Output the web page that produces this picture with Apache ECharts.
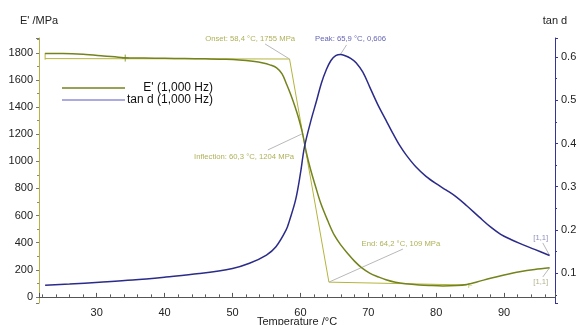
<!DOCTYPE html>
<html>
<head>
<meta charset="utf-8">
<title>DMA</title>
<script src="https://cdn.jsdelivr.net/npm/echarts@6/dist/echarts.min.js"></script>
<style>
  html, body { margin: 0; padding: 0; background: #fff; }
  #dma { width: 577px; height: 325px; }
</style>
</head>
<body>
<div id="dma"></div>
<script>
// E' curve (temperature / MPa)
const eTemp = [22.4, 25, 28, 31, 34, 37, 40, 43, 46, 49, 51, 53, 54.5, 55.5, 56.5, 57.3, 58, 58.6, 59.2, 59.7, 60.3, 60.9, 61.5, 62.2, 63, 64, 65, 66, 67, 68, 69, 70.2, 71.5, 72.6, 74, 75.5, 77.5, 79, 81, 83, 84.5, 86, 88, 90, 92.3, 94.5, 96.7]
const eMod = [1795, 1795, 1790, 1778, 1765, 1762, 1760, 1758, 1756, 1753, 1748, 1738, 1726, 1712, 1690, 1645, 1565, 1490, 1405, 1325, 1210, 1060, 940, 820, 690, 565, 455, 380, 318, 262, 216, 176, 147, 126, 108, 97, 88, 84, 81, 84, 92, 110, 138, 162, 186, 203, 215]

// tan d curve
const tTemp = [22.4, 26, 30.4, 35.3, 40.2, 45.1, 50, 52.5, 55, 56.4, 57.9, 58.4, 59.3, 60, 60.6, 61.5, 62.4, 63.1, 63.8, 64.5, 65.2, 65.9, 66.6, 67.4, 68.2, 69.2, 70.2, 71.4, 72.6, 73.6, 74.6, 75.6, 77, 78.5, 80, 81.5, 83, 84.5, 86.4, 88, 89.5, 91, 92.3, 94.5, 96.7]
const tanD = [0.072, 0.075, 0.079, 0.084, 0.091, 0.099, 0.111, 0.123, 0.142, 0.161, 0.2, 0.222, 0.27, 0.33, 0.392, 0.45, 0.5, 0.54, 0.57, 0.592, 0.603, 0.606, 0.603, 0.597, 0.587, 0.565, 0.531, 0.49, 0.454, 0.424, 0.396, 0.373, 0.346, 0.324, 0.307, 0.292, 0.276, 0.256, 0.229, 0.207, 0.19, 0.178, 0.169, 0.155, 0.141]

// evaluation lines (onset / tangent / end)
const startTick = [[22.4, 1800], [22.4, 1750]]
const onsetBase = [[22.4, 1758], [58.4, 1755]]
const tangent = [[58.4, 1755], [64.2, 109]]
const endBase = [[64.2, 109], [84.5, 88]]
const plusMark = [[34.2, 1762]]
const fMark = [[85, 84]]

// annotation texts: [x, y] of the text, leader from point to anchor
const onsetText = { pos: [52.6, 1905], from: [58.4, 1755], to: [54.8, 1866], text: 'Onset: 58,4 °C, 1755 MPa' }
const inflText = { pos: [51.7, 1032], from: [60.3, 1204], to: [55.2, 1084], text: 'Inflection: 60,3 °C, 1204 MPa' }
const endText = { pos: [74.8, 390], from: [64.2, 109], to: [75.1, 353], text: 'End: 64,2 °C, 109 MPa' }
const eEndText = { pos: [95.4, 110], from: [96.7, 215], to: [95.7, 147], text: '[1,1]' }
const peakText = { pos: [67.4, 0.642], from: [65.9, 0.606], to: [66.8, 0.628], text: 'Peak: 65,9 °C, 0,606' }
const tEndText = { pos: [95.4, 0.181], from: [96.7, 0.141], to: [95.7, 0.17], text: '[1,1]' }

const olive = '#74831c'
const oliveLight = '#b4b43e'
const oliveText = '#9a9c2c'
const navy = '#2b2b8a'
const leader = '#b8b8b8'

const zip = (xs, ys) => xs.map((x, i) => [x, ys[i]])

function helperLine(data, color, yAxisIndex) {
  return {
    type: 'line',
    data: data,
    yAxisIndex: yAxisIndex,
    symbol: 'none',
    silent: true,
    lineStyle: { color: color, width: 1 },
    z: 1
  }
}

function note(a, color, yAxisIndex) {
  return [
    helperLine([a.from, a.to], leader, yAxisIndex),
    {
      type: 'scatter',
      data: [a.pos],
      yAxisIndex: yAxisIndex,
      symbolSize: 0,
      silent: true,
      clip: false,
      label: {
        show: true,
        position: 'inside',
        formatter: a.text,
        color: color,
        fontSize: 7.7,
        fontFamily: 'Liberation Sans'
      }
    }
  ]
}

const chart = echarts.init(document.getElementById('dma'))
const option = {
  animation: false,
  textStyle: { fontFamily: 'Liberation Sans' },
  grid: { left: 39, right: 22, top: 38, bottom: 22, containLabel: false, outerBoundsMode: 'none' },
  legend: {
    orient: 'vertical',
    left: 57,
    top: 77,
    itemWidth: 63,
    itemHeight: 1.5,
    itemGap: 0,
    data: [
      { name: "E' (1,000 Hz)", icon: 'rect', itemStyle: { color: olive } },
      { name: 'tan d (1,000 Hz)', icon: 'rect', itemStyle: { color: '#8f8fd6' } }
    ],
    formatter: name => '{t|' + name + '}',
    textStyle: {
      color: '#111',
      fontSize: 12,
      rich: { t: { width: 83, align: 'right', fontSize: 12, lineHeight: 13, color: '#111' } }
    }
  },
  xAxis: {
    type: 'value',
    min: 21.5,
    max: 97.5,
    splitNumber: 8,
    name: 'Temperature /°C',
    nameLocation: 'middle',
    nameGap: 13,
    nameMoveOverlap: false,
    nameTextStyle: { color: '#222', fontSize: 11 },
    axisLine: { lineStyle: { color: '#555' } },
    axisTick: { inside: true, length: 4, lineStyle: { color: '#555' } },
    minorTick: { show: true, splitNumber: 5, length: 2.5, lineStyle: { color: '#555' } },
    axisLabel: { showMinLabel: false, showMaxLabel: false, color: '#222', fontSize: 11, margin: 4 },
    splitLine: { show: false }
  },
  yAxis: [
    {
      type: 'value',
      min: -45,
      max: 1910,
      splitNumber: 10,
      position: 'left',
      name: "E' /MPa",
      nameGap: 12,
      nameTextStyle: { color: '#222', fontSize: 11 },
      axisLine: { show: true, lineStyle: { color: '#b4b43e' } },
      axisTick: { show: true, length: 3, lineStyle: { color: '#777' } },
      minorTick: { show: true, splitNumber: 2, length: 2, lineStyle: { color: '#888' } },
      axisLabel: {
        showMinLabel: false,
        showMaxLabel: false,
        color: '#222',
        fontSize: 11,
        margin: 6,
        formatter: v => String(v)
      },
      splitLine: { show: false }
    },
    {
      type: 'value',
      min: 0.031,
      max: 0.644,
      splitNumber: 6,
      position: 'right',
      name: 'tan d',
      nameGap: 12,
      nameTextStyle: { color: '#222', fontSize: 11 },
      axisLine: { show: true, lineStyle: { color: '#34349a' } },
      axisTick: { show: true, length: 3, lineStyle: { color: '#34349a' } },
      minorTick: { show: true, splitNumber: 2, length: 2, lineStyle: { color: '#34349a' } },
      axisLabel: {
        showMinLabel: false,
        showMaxLabel: false,
        color: '#222',
        fontSize: 11,
        margin: 6,
        formatter: v => v.toFixed(1)
      },
      splitLine: { show: false }
    }
  ],
  series: [
    helperLine(startTick, oliveLight, 0),
    helperLine(onsetBase, oliveLight, 0),
    helperLine(tangent, oliveLight, 0),
    helperLine(endBase, oliveLight, 0),
    {
      name: "E' (1,000 Hz)",
      type: 'line',
      data: zip(eTemp, eMod),
      yAxisIndex: 0,
      symbol: 'none',
      smooth: 0.35,
      lineStyle: { color: olive, width: 1.5 },
      itemStyle: { color: olive },
      z: 3
    },
    {
      name: 'tan d (1,000 Hz)',
      type: 'line',
      data: zip(tTemp, tanD),
      yAxisIndex: 1,
      symbol: 'none',
      smooth: 0.35,
      lineStyle: { color: navy, width: 1.5 },
      itemStyle: { color: navy },
      z: 3
    },
    {
      type: 'scatter',
      data: plusMark,
      yAxisIndex: 0,
      symbol: 'path://M0,5L10,5M5,0L5,10',
      symbolSize: 7,
      silent: true,
      itemStyle: { color: 'none', borderColor: olive, borderWidth: 1 }
    },
    {
      type: 'scatter',
      data: fMark,
      yAxisIndex: 0,
      symbolSize: 0,
      silent: true,
      label: { show: true, position: 'inside', formatter: 'F', color: oliveLight, fontSize: 8 }
    },
    ...note(onsetText, oliveText, 0),
    ...note(inflText, oliveText, 0),
    ...note(endText, oliveText, 0),
    ...note(eEndText, '#a0a070', 0),
    ...note(peakText, '#3a3aa0', 1),
    ...note(tEndText, '#7070a8', 1)
  ]
}
chart.setOption(option)
chart.resize()
window.onresize = () => {
  chart.resize()
}
</script>
</body>
</html>
